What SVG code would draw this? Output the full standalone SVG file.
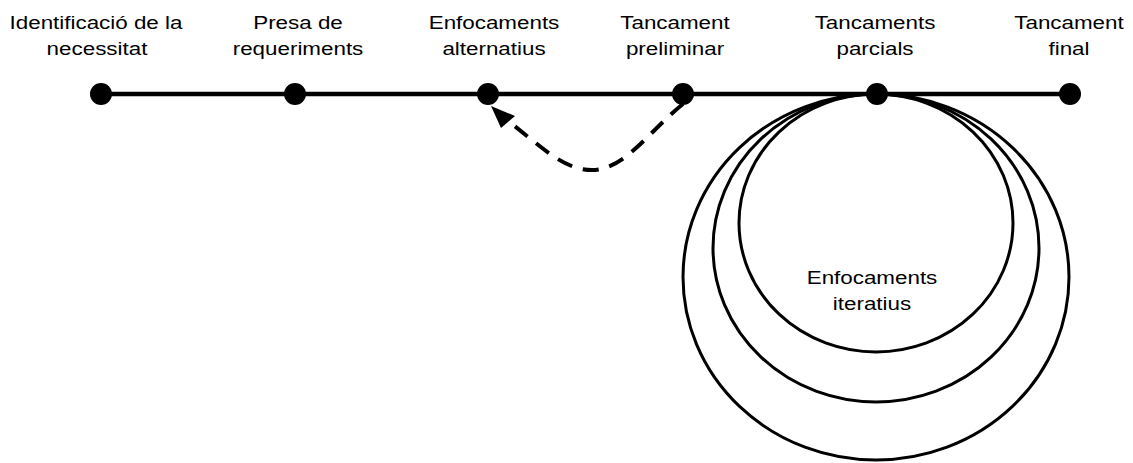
<svg xmlns="http://www.w3.org/2000/svg" width="1133" height="463" viewBox="0 0 1133 463">
  <style>
    .lbl { font-family: "Liberation Sans", Arial, sans-serif; font-size: 17.5px; fill: #000; text-anchor: middle; }
    .dot { fill: #000; }
    .loop { fill: none; stroke: #000; stroke-width: 3; }
    .axis { stroke: #000; stroke-width: 4.5; fill: none; }
    .back { fill: none; stroke: #000; stroke-width: 4; stroke-dasharray: 16 11; }
  </style>
  <rect width="1133" height="463" fill="#fff"/>

  <!-- iteration loops hanging from "Tancaments parcials" -->
  <g id="iteratius">
    <ellipse class="loop" cx="876" cy="277" rx="193" ry="183"/>
    <ellipse class="loop" cx="876" cy="248" rx="163" ry="154"/>
    <ellipse class="loop" cx="876" cy="223" rx="137" ry="129"/>
    <text class="lbl" transform="translate(872 284) scale(1.28 1)">Enfocaments</text>
    <text class="lbl" transform="translate(872 310) scale(1.28 1)">iteratius</text>
  </g>

  <!-- connectors -->
  <g id="connectors">
    <line class="axis" x1="101" y1="94" x2="1070" y2="94"/>
    <path class="back" d="M 683 104 C 650 130, 625 170, 592 170 C 565 170, 545 150, 512 124"/>
    <polygon points="491,106 515,116 501,128" fill="#000"/>
  </g>

  <g id="n1">
    <circle class="dot" cx="101" cy="94" r="11"/>
    <text class="lbl" transform="translate(96 29) scale(1.28 1)">Identificació de la</text>
    <text class="lbl" transform="translate(97 55) scale(1.28 1)">necessitat</text>
  </g>
  <g id="n2">
    <circle class="dot" cx="295" cy="94" r="11"/>
    <text class="lbl" transform="translate(298 29) scale(1.28 1)">Presa de</text>
    <text class="lbl" transform="translate(298 55) scale(1.28 1)">requeriments</text>
  </g>
  <g id="n3">
    <circle class="dot" cx="488" cy="94" r="11"/>
    <text class="lbl" transform="translate(494 29) scale(1.28 1)">Enfocaments</text>
    <text class="lbl" transform="translate(494 55) scale(1.28 1)">alternatius</text>
  </g>
  <g id="n4">
    <circle class="dot" cx="683" cy="94" r="11"/>
    <text class="lbl" transform="translate(675 29) scale(1.28 1)">Tancament</text>
    <text class="lbl" transform="translate(675 55) scale(1.28 1)">preliminar</text>
  </g>
  <g id="n5">
    <circle class="dot" cx="877" cy="94" r="11"/>
    <text class="lbl" transform="translate(875 29) scale(1.28 1)">Tancaments</text>
    <text class="lbl" transform="translate(875 55) scale(1.28 1)">parcials</text>
  </g>
  <g id="n6">
    <circle class="dot" cx="1070" cy="94" r="11"/>
    <text class="lbl" transform="translate(1069 29) scale(1.28 1)">Tancament</text>
    <text class="lbl" transform="translate(1069 55) scale(1.28 1)">final</text>
  </g>
</svg>
